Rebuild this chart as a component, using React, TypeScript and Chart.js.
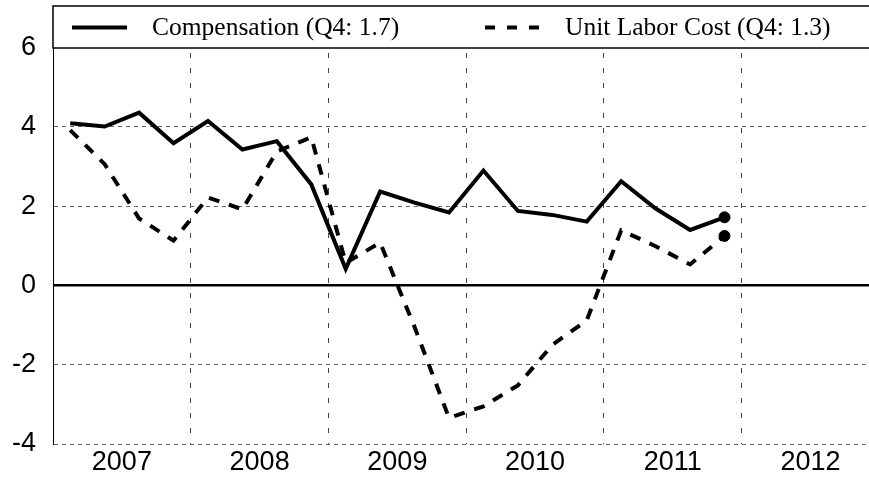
import React, { useEffect, useRef } from "react";
import { Chart, registerables } from "chart.js";

Chart.register(...registerables);

// Quarterly data, 2007Q1 .. 2011Q4
const START_YEAR = 2007;
const QUARTERS = [
  "2007Q1", "2007Q2", "2007Q3", "2007Q4",
  "2008Q1", "2008Q2", "2008Q3", "2008Q4",
  "2009Q1", "2009Q2", "2009Q3", "2009Q4",
  "2010Q1", "2010Q2", "2010Q3", "2010Q4",
  "2011Q1", "2011Q2", "2011Q3", "2011Q4",
];
const COMPENSATION = [
  4.09, 4.01, 4.36, 3.59,
  4.15, 3.43, 3.64, 2.55,
  0.42, 2.37, 2.09, 1.84,
  2.9, 1.88, 1.78, 1.61,
  2.63, 1.94, 1.4, 1.72,
];
const UNIT_LABOR_COST = [
  3.92, 3.06, 1.69, 1.13,
  2.22, 1.92, 3.38, 3.74,
  0.57, 1.08, -1.05, -3.34,
  -3.05, -2.52, -1.5, -0.88,
  1.39, 0.99, 0.53, 1.25,
];
const YEAR_LABELS = ["2007", "2008", "2009", "2010", "2011", "2012"];
const Y_TICKS = [-4, -2, 0, 2, 4, 6];
const LEGEND_LABELS = ["Compensation (Q4: 1.7)", "Unit Labor Cost (Q4: 1.3)"];

const X_MIN = 2007;
const X_MAX = 2012.924;
const ULC_DASH = [11, 10];
const TICK_FONT = { family: '"Liberation Sans", Arial, sans-serif', size: 27 };

function quarterToX(q: string): number {
  const year = parseInt(q.slice(0, 4), 10);
  const qi = parseInt(q.slice(5), 10);
  return year + (qi - 0.5) / 4;
}

function zeroPadding(scale: any) {
  scale.paddingTop = 0;
  scale.paddingBottom = 0;
  scale.paddingLeft = 0;
  scale.paddingRight = 0;
}

const legendPlugin = {
  id: "boxLegend",
  afterDraw(chart: any) {
    const { ctx, chartArea } = chart;
    const left = chartArea.left;
    const top = 6;
    const bottom = 48;
    ctx.save();
    ctx.fillStyle = "#ffffff";
    ctx.fillRect(left, top, 900, bottom - top);
    ctx.strokeStyle = "#000000";
    ctx.lineWidth = 1.5;
    ctx.setLineDash([]);
    ctx.strokeRect(left, top, 900, bottom - top);

    const midY = 27.5;
    // Compensation sample
    ctx.lineWidth = 4;
    ctx.lineCap = "butt";
    ctx.beginPath();
    ctx.moveTo(72, midY);
    ctx.lineTo(127, midY);
    ctx.stroke();
    // ULC sample
    ctx.setLineDash([10, 12]);
    ctx.beginPath();
    ctx.moveTo(485, midY);
    ctx.lineTo(541, midY);
    ctx.stroke();
    ctx.setLineDash([]);

    ctx.fillStyle = "#000000";
    ctx.font = '25.5px "Liberation Serif", "Times New Roman", serif';
    ctx.textBaseline = "middle";
    ctx.textAlign = "left";
    ctx.fillText(LEGEND_LABELS[0], 152, midY + 1);
    ctx.fillText(LEGEND_LABELS[1], 565, midY + 1);
    ctx.restore();
  },
};

export default function App() {
  const canvasRef = useRef<HTMLCanvasElement | null>(null);

  useEffect(() => {
    const canvas = canvasRef.current;
    if (!canvas) return;
    const xs = QUARTERS.map(quarterToX);
    const last = QUARTERS.length - 1;
    const radius = (c: any) => (c.dataIndex === last ? 5.5 : 0);

    const chart = new Chart(canvas, {
      type: "line",
      data: {
        datasets: [
          {
            label: LEGEND_LABELS[0],
            data: xs.map((x, i) => ({ x, y: COMPENSATION[i] })),
            borderColor: "#000000",
            backgroundColor: "#000000",
            borderWidth: 4,
            pointRadius: radius,
            pointHoverRadius: radius,
            pointBorderWidth: 1,
            pointBackgroundColor: "#000000",
            pointBorderColor: "#000000",
            tension: 0,
            fill: false,
          },
          {
            label: LEGEND_LABELS[1],
            data: xs.map((x, i) => ({ x, y: UNIT_LABOR_COST[i] })),
            borderColor: "#000000",
            backgroundColor: "#000000",
            borderWidth: 4,
            borderDash: ULC_DASH,
            pointRadius: radius,
            pointHoverRadius: radius,
            pointBorderWidth: 1,
            pointBackgroundColor: "#000000",
            pointBorderColor: "#000000",
            tension: 0,
            fill: false,
          },
        ],
      },
      options: {
        responsive: false,
        animation: false,
        events: [],
        layout: { autoPadding: false, padding: { top: 8, left: 0, right: 0, bottom: 0 } },
        plugins: {
          legend: { display: false },
          tooltip: { enabled: false },
          title: { display: false },
        },
        scales: {
          x: {
            type: "linear",
            min: X_MIN,
            max: X_MAX,
            afterBuildTicks: (scale: any) => {
              const t: any[] = [];
              YEAR_LABELS.forEach((_, i) => {
                const y = START_YEAR + i;
                if (i > 0) t.push({ value: y });
                t.push({ value: y + 0.5 });
              });
              scale.ticks = t;
            },
            afterFit: (scale: any) => {
              scale.height = 35;
              zeroPadding(scale);
            },
            ticks: {
              autoSkip: false,
              maxRotation: 0,
              minRotation: 0,
              padding: 2,
              color: "#000000",
              font: TICK_FONT,
              callback: (value: any) => {
                const v = Number(value);
                if (Number.isInteger(v)) return "";
                const idx = Math.floor(v) - START_YEAR;
                return YEAR_LABELS[idx] ?? "";
              },
            },
            grid: {
              drawTicks: false,
              lineWidth: 1,
              color: (c: any) =>
                c.tick && Number.isInteger(c.tick.value) ? "#444444" : "rgba(0,0,0,0)",
            },
            border: { display: false, dash: [5, 10] },
          },
          y: {
            type: "linear",
            min: -4,
            max: 7,
            afterBuildTicks: (scale: any) => {
              scale.ticks = Y_TICKS.map((v) => ({ value: v }));
            },
            afterFit: (scale: any) => {
              scale.width = 53;
              zeroPadding(scale);
            },
            ticks: {
              padding: 17,
              color: "#000000",
              font: TICK_FONT,
              callback: (value: any) => String(value),
            },
            grid: {
              drawTicks: false,
              color: (c: any) => (c.tick && c.tick.value === 0 ? "#000000" : "#666666"),
              lineWidth: (c: any) => (c.tick && c.tick.value === 0 ? 2.5 : 1),
            },
            border: {
              display: true,
              color: "#000000",
              width: 1,
              dash: (c: any) => (c.tick && c.tick.value === 0 ? [] : [4, 4]),
            },
          },
        },
      },
      plugins: [legendPlugin],
    } as any);

    return () => {
      chart.destroy();
    };
  }, []);

  return (
    <canvas
      ref={canvasRef}
      width={869}
      height={479}
      style={{ position: "fixed", left: 0, top: 0, display: "block", background: "#ffffff" }}
    />
  );
}
